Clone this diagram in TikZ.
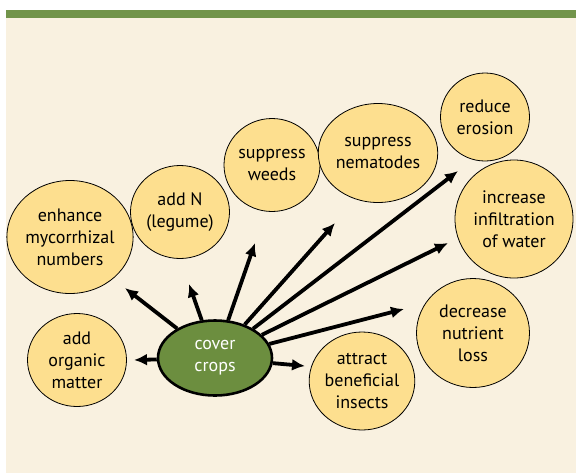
\documentclass[tikz,border=0pt]{standalone}
\usepackage{fontspec}
\setmainfont{PT Sans}
\usetikzlibrary{arrows.meta, shapes.geometric}
\definecolor{barGreen}{HTML}{72944A}
\definecolor{paper}{HTML}{F9F1E0}
\definecolor{bubble}{HTML}{FDDF8F}
\definecolor{cropGreen}{HTML}{6C8E3F}
\tikzset{
  benefit/.style={
    ellipse,
    draw=black,
    line width=0.8pt,
    fill=bubble,
    align=center,
    inner sep=0pt,
    font=\fontsize{18}{22}\selectfont
  },
  crop/.style={
    ellipse,
    draw=black,
    line width=2.6pt,
    fill=cropGreen,
    text=white,
    align=center,
    inner sep=0pt,
    font=\fontsize{18}{22}\selectfont
  },
  arrow/.style={-{Latex[length=13pt, width=12pt]}, line width=3.8pt}
}

\begin{document}
\begin{tikzpicture}[x=1pt, y=-1pt]
  % page, panel and top bar
  \fill[white] (0,0) rectangle (576,475);
  \useasboundingbox (0,0) rectangle (576,475);
  \fill[paper] (6,18) rectangle (576,473);
  \fill[barGreen] (6,10) rectangle (576,18);

  % benefits
  \node[benefit, minimum width=115pt, minimum height=113pt] (enhance) at (70,237) {enhance\\mycorrhizal\\numbers};
  \node[benefit, minimum width=99pt, minimum height=93pt] (addn) at (180,212) {add N\\(legume)};
  \node[benefit, minimum width=96pt, minimum height=93pt] (weeds) at (272,165) {suppress\\weeds};
  \node[benefit, minimum width=113pt, minimum height=99pt] (nema) at (378,153) {suppress\\nematodes};
  \node[benefit, minimum width=89pt, minimum height=88pt] (erosion) at (485,117) {reduce\\erosion};
  \node[benefit, minimum width=118pt, minimum height=118pt] (infil) at (514,219) {increase\\infiltration\\of water};
  \node[benefit, minimum width=113pt, minimum height=109pt] (loss) at (473,333) {decrease\\nutrient\\loss};
  \node[benefit, minimum width=104pt, minimum height=98pt] (insects) at (362,381) {attract\\beneficial\\insects};
  \node[benefit, minimum width=99pt, minimum height=93pt] (organic) at (77,360) {add\\organic\\matter};

  % centre
  \node[crop, minimum width=114pt, minimum height=75pt] (cover) at (215,358) {cover\\crops};

  % arrow tips
  \coordinate (toOrganic) at (134,360);
  \coordinate (toEnhance) at (125,288);
  \coordinate (toAddn) at (189,284);
  \coordinate (toWeeds) at (255,243);
  \coordinate (toNema) at (335,223);
  \coordinate (toErosion) at (458,171);
  \coordinate (toInfil) at (448,243);
  \coordinate (toLoss) at (404,309);
  \coordinate (toInsects) at (305,366);

  \foreach \tip in {toOrganic, toEnhance, toAddn, toWeeds, toNema, toErosion, toInfil, toLoss, toInsects}
    \draw[arrow] (cover) -- (\tip);
\end{tikzpicture}
\end{document}
